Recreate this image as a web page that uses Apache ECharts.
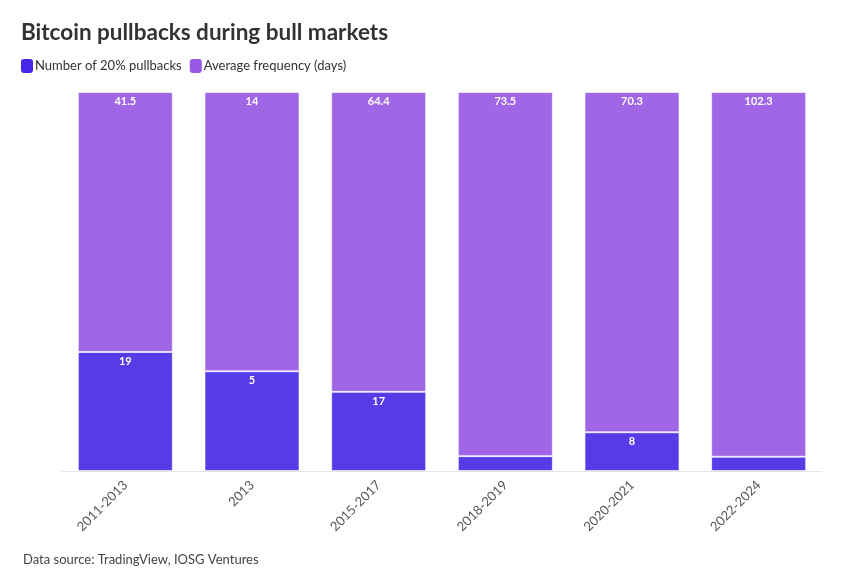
<!DOCTYPE html>
<html>
<head>
<meta charset="utf-8">
<script src="https://cdn.jsdelivr.net/npm/echarts@6/dist/echarts.min.js"></script>
<style>html,body{margin:0;padding:0;background:#fff}#c{width:866px;height:576px}</style>
</head>
<body>
<div id="c"></div>
<script>
const categories = ['2011-2013', '2013', '2015-2017', '2018-2019', '2020-2021', '2022-2024'];
const pullbacks = [19, 5, 17, 3, 8, 4];
const avgFrequency = [41.5, 14, 64.4, 73.5, 70.3, 102.3];

const totals = pullbacks.map((v, i) => v + avgFrequency[i]);
const pullShare = pullbacks.map((v, i) => ({ value: v / totals[i] * 100, raw: v }));
const freqShare = avgFrequency.map((v, i) => ({ value: v / totals[i] * 100, raw: v }));

const FONT = 'Lato, "Noto Sans", sans-serif';
const C1 = '#553CE7';
const C2 = '#A066E5';

const chart = echarts.init(document.getElementById('c'));
function lbl(color) {
  return {
    show: true,
    position: 'insideTop',
    distance: 4,
    color: '#fff',
    fontFamily: FONT,
    fontWeight: 'bold',
    fontSize: 11,
    textBorderColor: color,
    textBorderWidth: 2,
    formatter: p => (p.value < 6 ? '' : String(p.data.raw))
  };
}
chart.setOption({
  animation: false,
  title: {
    text: 'Bitcoin pullbacks during bull markets',
    left: 16, top: 16,
    textStyle: { fontFamily: FONT, fontSize: 22.5, fontWeight: 'bold', color: '#333' }
  },
  legend: {
    left: 16, top: 54,
    itemWidth: 12, itemHeight: 14, itemGap: 8,
    icon: 'roundRect',
    textStyle: { fontFamily: FONT, fontSize: 13, color: '#333', padding: [0, 0, 0, -3] },
    data: [
      { name: 'Number of 20% pullbacks', itemStyle: { color: '#4527E8', borderWidth: 0 } },
      { name: 'Average frequency (days)', itemStyle: { color: '#9B57E6', borderWidth: 0 } }
    ]
  },
  grid: { left: 62, right: 44, top: 92, bottom: 105 },
  xAxis: {
    type: 'category',
    data: categories,
    axisLine: { lineStyle: { color: '#e6e6e6' } },
    axisTick: { alignWithLabel: true, length: 6, lineStyle: { color: '#e6e6e6' } },
    axisLabel: { rotate: 45, color: '#555', fontFamily: FONT, fontSize: 13, margin: 12 }
  },
  yAxis: { type: 'value', min: 0, max: 100, show: false },
  series: [
    {
      name: 'Number of 20% pullbacks', type: 'bar', stack: 's', barWidth: '75%',
      data: pullShare,
      itemStyle: { color: C1, borderColor: 'rgba(255,255,255,0.6)', borderWidth: 1 },
      label: lbl(C1)
    },
    {
      name: 'Average frequency (days)', type: 'bar', stack: 's', barWidth: '75%',
      data: freqShare,
      itemStyle: { color: C2, borderColor: 'rgba(255,255,255,0.6)', borderWidth: 1 },
      label: lbl(C2)
    }
  ],
  graphic: [{
    type: 'text', left: 23, top: 553,
    style: { text: 'Data source: TradingView, IOSG Ventures', fontFamily: FONT, fontSize: 13, fill: '#444' }
  }]
});
</script>
</body>
</html>
